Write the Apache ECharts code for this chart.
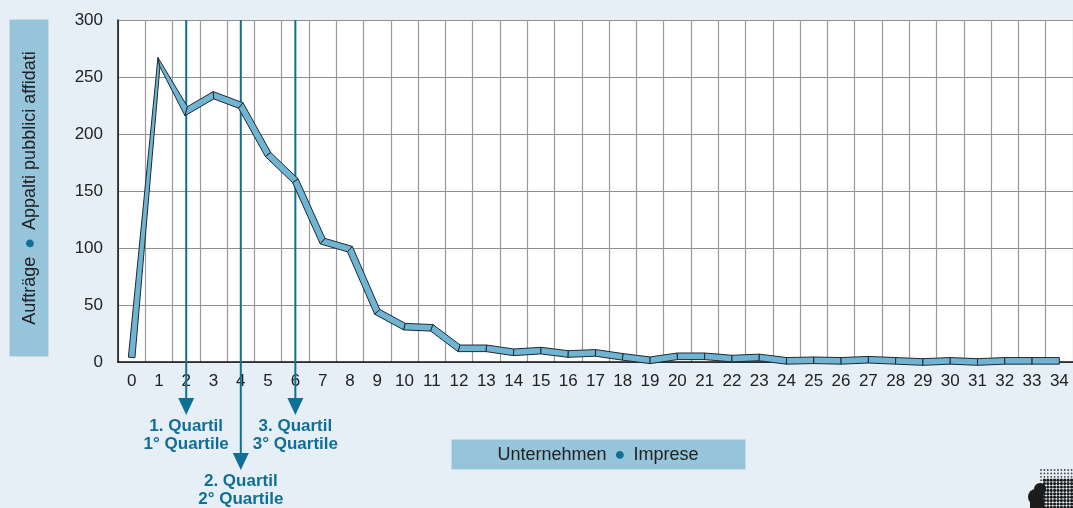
<!DOCTYPE html>
<html>
<head>
<meta charset="utf-8">
<script src="https://cdn.jsdelivr.net/npm/echarts@6/dist/echarts.min.js"></script>
<style>
  html, body { margin: 0; padding: 0; background: #e6eff5; }
  #chart { width: 1073px; height: 508px; }
</style>
</head>
<body>
<div id="chart"></div>
<script>
// ---- data ----
const categories = ['0','1','2','3','4','5','6','7','8','9','10','11','12','13','14','15','16','17','18','19','20','21','22','23','24','25','26','27','28','29','30','31','32','33','34'];
const values = [4, 263, 220, 234, 225, 182, 159, 106, 99, 44, 31, 30, 12, 12, 8.5, 10, 7, 8, 4.5, 1.5, 5, 5, 3, 4, 1, 1.5, 1, 2, 1, 0, 1, 0, 1, 1, 1];
const quartilePositions = [2, 4, 6];
const quartileLabels = ['1. Quartil\n1° Quartile', '2. Quartil\n2° Quartile', '3. Quartil\n3° Quartile'];
const yTicks = { min: 0, max: 300, interval: 50 };
const yTitleLeft = 'Aufträge';
const yTitleRight = 'Appalti pubblici affidati';
const xTitleLeft = 'Unternehmen';
const xTitleRight = 'Imprese';

const FONT = '"Liberation Sans", Arial, Helvetica, sans-serif';
const BLUE = '#0f6f96';

const chart = echarts.init(document.getElementById('chart'), null, { renderer: 'canvas' });

function unit(dx, dy) { const l = Math.hypot(dx, dy) || 1; return [dx / l, dy / l]; }

function bandRender(params, api) {
  const i = api.value(0);
  const hw = 3.3;
  const pt = k => api.coord([k, values[k]]);
  function offset(k) {
    const p = pt(k);
    const ns = [];
    if (k > 0) { const a = pt(k - 1); const d = unit(p[0] - a[0], p[1] - a[1]); ns.push([-d[1], d[0]]); }
    if (k < values.length - 1) { const b = pt(k + 1); const d = unit(b[0] - p[0], b[1] - p[1]); ns.push([-d[1], d[0]]); }
    if (ns.length === 1) return [ns[0][0] * hw, ns[0][1] * hw];
    const m = unit(ns[0][0] + ns[1][0], ns[0][1] + ns[1][1]);
    const c = m[0] * ns[0][0] + m[1] * ns[0][1];
    const len = hw / Math.max(c, 0.7);
    return [m[0] * len, m[1] * len];
  }
  const p0 = pt(i), p1 = pt(i + 1);
  const o0 = offset(i), o1 = offset(i + 1);
  return {
    type: 'polygon',
    shape: { points: [
      [p0[0] + o0[0], p0[1] + o0[1]],
      [p1[0] + o1[0], p1[1] + o1[1]],
      [p1[0] - o1[0], p1[1] - o1[1]],
      [p0[0] - o0[0], p0[1] - o0[1]]
    ] },
    style: { fill: '#70b4d3', stroke: '#1e2a30', lineWidth: 1, lineJoin: 'miter' }
  };
}

function quartileRender(params, api) {
  const x = api.value(0);
  const top = api.coord([x, yTicks.max]);
  const base = api.coord([x, yTicks.min]);
  const drop = params.dataIndex === 1 ? 108 : 53;
  const tipY = base[1] + drop;
  const headH = 17, headW = 8;
  return {
    type: 'group',
    children: [
      { type: 'line', shape: { x1: top[0], y1: top[1], x2: top[0], y2: tipY - headH + 2 },
        style: { stroke: BLUE, lineWidth: 2 } },
      { type: 'polygon', shape: { points: [[top[0] - headW, tipY - headH], [top[0] + headW, tipY - headH], [top[0], tipY]] },
        style: { fill: BLUE } },
      { type: 'text', x: top[0], y: tipY + 2,
        style: { text: quartileLabels[params.dataIndex], fill: BLUE, font: 'bold 17px ' + FONT,
                 align: 'center', verticalAlign: 'top', lineHeight: 18 } }
    ]
  };
}

// logo decoration (dot pattern)
const logo = [];
for (let gx = 1041; gx <= 1073; gx += 3.4) {
  for (let gy = 470; gy <= 508; gy += 3.4) {
    const dense = gy > 479 && gx > 1043;
    logo.push({ type: 'circle', shape: { cx: gx, cy: gy, r: dense ? 1.6 : 0.9 }, style: { fill: dense ? '#1c1c1c' : '#444' }, silent: true });
  }
}
logo.push({ type: 'circle', shape: { cx: 1036, cy: 497, r: 8 }, style: { fill: '#1c1c1c' }, silent: true });
logo.push({ type: 'circle', shape: { cx: 1040, cy: 489, r: 6 }, style: { fill: '#1c1c1c' }, silent: true });
logo.push({ type: 'rect', shape: { x: 1030, y: 500, width: 14, height: 8 }, style: { fill: '#1c1c1c' }, silent: true });

const option = {
  backgroundColor: '#e6eff5',
  animation: false,
  grid: { left: 118, top: 20, width: 958, bottom: 146, show: true, backgroundColor: '#ffffff', borderWidth: 0 },
  xAxis: {
    type: 'category',
    data: categories,
    boundaryGap: true,
    axisLine: { show: true, lineStyle: { color: '#111', width: 1.5 } },
    axisTick: { show: false },
    axisLabel: { color: '#222', fontSize: 17, fontFamily: FONT, margin: 11, interval: 0 },
    splitLine: { show: true, interval: 0, lineStyle: { color: '#9a9a9a', width: 1.2 } }
  },
  yAxis: {
    type: 'value',
    min: yTicks.min, max: yTicks.max, interval: yTicks.interval,
    axisLine: { show: true, lineStyle: { color: '#111', width: 1.5 } },
    axisTick: { show: false },
    axisLabel: { color: '#222', fontSize: 17, fontFamily: FONT, margin: 15 },
    splitLine: { show: true, lineStyle: { color: '#8e8e8e', width: 1.2 } }
  },
  graphic: [
    { type: 'rect', shape: { x: 9.5, y: 19.5, width: 39, height: 337 },
      style: { fill: '#95c4db', stroke: '#c8dce7', lineWidth: 1 }, silent: true },
    { type: 'text', x: 30, y: 188, rotation: Math.PI / 2,
      style: { text: yTitleLeft + ' {b|●} ' + yTitleRight, fill: '#222', font: '18px ' + FONT,
               align: 'center', verticalAlign: 'middle',
               rich: { b: { fill: BLUE, fontSize: 18, fontFamily: FONT, padding: [0, 3, 0, 3] } } }, silent: true },
    { type: 'rect', shape: { x: 451.5, y: 439.5, width: 294, height: 30 },
      style: { fill: '#95c4db', stroke: '#c8dce7', lineWidth: 1 }, silent: true },
    { type: 'text', x: 598, y: 455,
      style: { text: xTitleLeft + ' {b|●} ' + xTitleRight, fill: '#222', font: '18px ' + FONT,
               align: 'center', verticalAlign: 'middle',
               rich: { b: { fill: BLUE, fontSize: 18, fontFamily: FONT, padding: [0, 3, 0, 3] } } }, silent: true }
  ].concat(logo),
  series: [
    {
      type: 'custom',
      name: 'quartiles',
      renderItem: quartileRender,
      data: quartilePositions.map(p => [p]),
      clip: false,
      z: 3,
      silent: true
    },
    {
      type: 'custom',
      name: 'band',
      renderItem: bandRender,
      data: values.slice(0, -1).map((v, i) => [i, v]),
      clip: false,
      z: 5,
      silent: true
    }
  ]
};
chart.setOption(option);
</script>
</body>
</html>
